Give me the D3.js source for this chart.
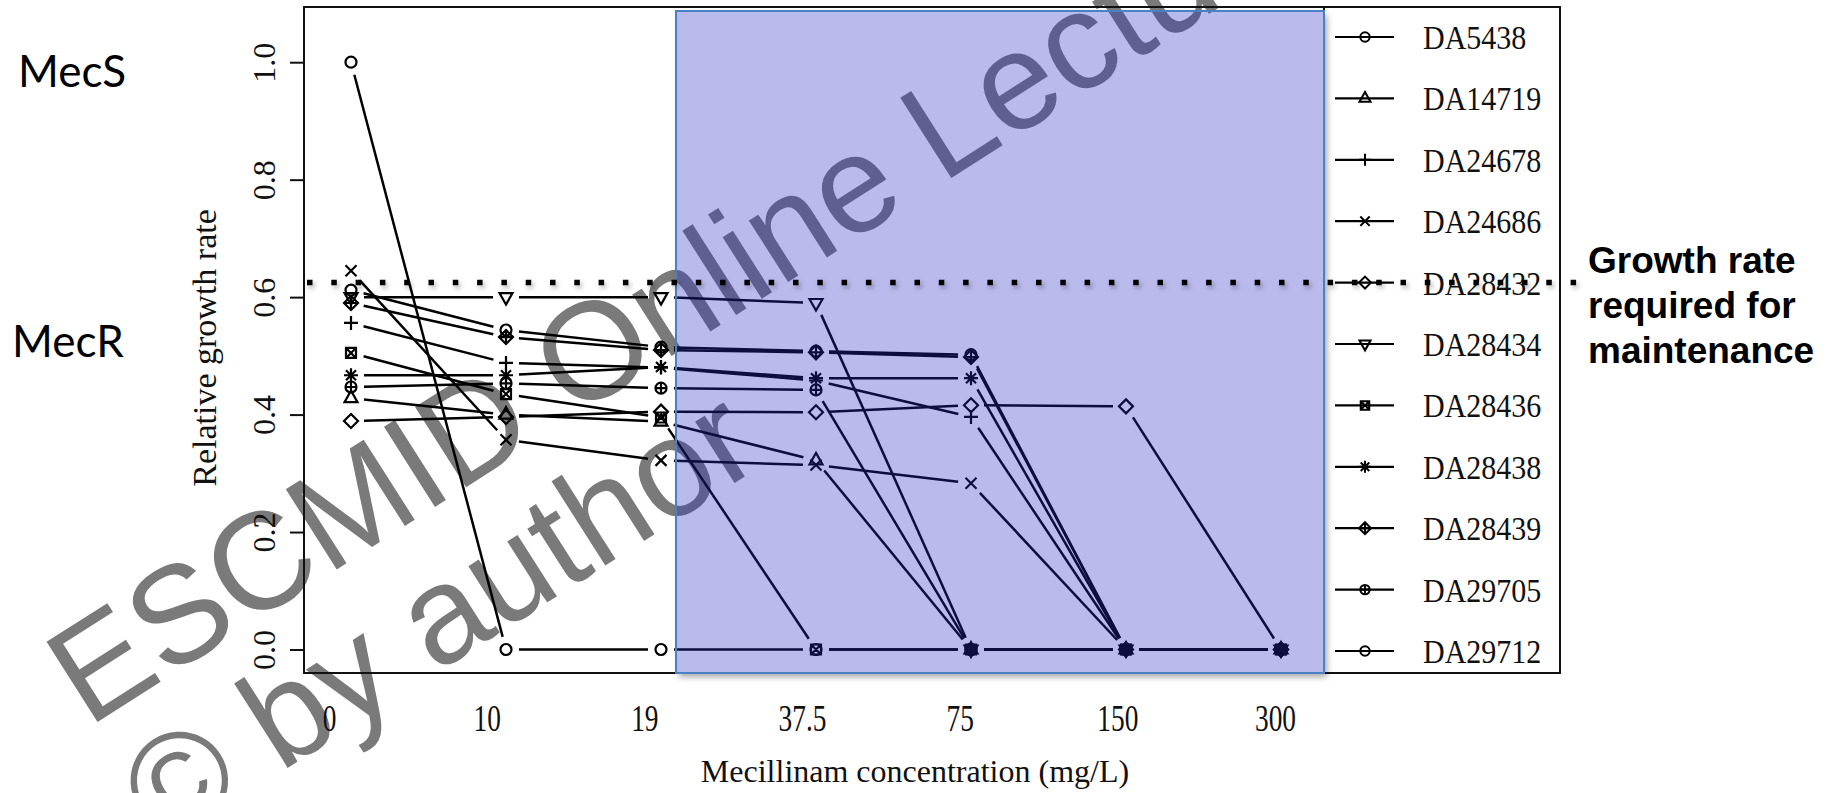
<!DOCTYPE html>
<html>
<head>
<meta charset="utf-8">
<script src="https://cdn.jsdelivr.net/npm/d3@7"></script>
<style>
  body { margin: 0; background: #fff; }
  text { font-family: 'Liberation Serif', 'Times New Roman', serif; }
</style>
</head>
<body>
<svg width="1828" height="793"></svg>
<script>
// data
const concentrations = ['0', '10', '19', '37.5', '75', '150', '300'];
const strains = ['DA5438', 'DA14719', 'DA24678', 'DA24686', 'DA28432', 'DA28434',
  'DA28436', 'DA28438', 'DA28439', 'DA29705', 'DA29712'];

const da5438  = [1.00, 0, 0, 0, 0, 0, 0];
const da14719 = [0.428, 0.400, 0.388, 0.322, 0, 0, 0];
const da24678 = [0.556, 0.488, 0.480, 0.458, 0.396, 0, 0];
const da24686 = [0.645, 0.357, 0.322, 0.314, 0.283, 0, 0];
const da28432 = [0.389, 0.396, 0.405, 0.404, 0.416, 0.414, 0];
const da28434 = [0.600, 0.600, 0.600, 0.590, 0, 0, 0];
const da28436 = [0.505, 0.435, 0.395, 0, 0, 0, 0];
const da28438 = [0.467, 0.467, 0.481, 0.462, 0.462, 0, 0];
const da28439 = [0.590, 0.532, 0.510, 0.506, 0.498, 0, 0];
const da29705 = [0.447, 0.453, 0.445, 0.442, 0, 0, 0];
const da29712 = [0.612, 0.544, 0.515, 0.508, 0.502, 0, 0];

const yTicks = [0, 0.2, 0.4, 0.6, 0.8, 1.0];
const maintenanceRate = 0.625;

// R pch style symbols, one per strain
const shapes = ['circle', 'triUp', 'plus', 'cross', 'diamond', 'triDown',
  'squareX', 'asterisk', 'diamondPlus', 'circlePlus', 'circle'];

(function (d3) {
  'use strict';

  const svg = d3.select('svg');
  const width = +svg.attr('width');
  const height = +svg.attr('height');

  const allValues = [da5438, da14719, da24678, da24686, da28432, da28434,
    da28436, da28438, da28439, da29705, da29712];
  const series = strains.map((name, i) => ({ name, values: allValues[i], shape: shapes[i] }));

  const frame = { left: 304, right: 1324, legendRight: 1560, top: 7, bottom: 673 };

  const xScale = d3.scalePoint().domain(concentrations).range([351, 1281]);
  // typed tick labels sit a bit off the points in the original
  const xLabelScale = d3.scalePoint().domain(concentrations).range([329, 1275]);
  const yScale = d3.scaleLinear().domain([-0.04, 1.094]).range([frame.bottom, frame.top]);
  const legendScale = d3.scalePoint().domain(strains).range([37, 651]);

  const symbolPath = type => {
    const circ = r => `M${r},0A${r},${r} 0 1,1 ${-r},0A${r},${r} 0 1,1 ${r},0`;
    switch (type) {
      case 'circle': return circ(5.5);
      case 'triUp': return 'M0,-7.5L6.5,4L-6.5,4Z';
      case 'triDown': return 'M0,7.5L6.5,-4L-6.5,-4Z';
      case 'plus': return 'M-7,0H7M0,-7V7';
      case 'cross': return 'M-5.5,-5.5L5.5,5.5M-5.5,5.5L5.5,-5.5';
      case 'diamond': return 'M0,-7L7,0L0,7L-7,0Z';
      case 'squareX': return 'M-5,-5H5V5H-5ZM-5,-5L5,5M-5,5L5,-5';
      case 'asterisk': return 'M-7,0H7M0,-7V7M-5,-5L5,5M-5,5L5,-5';
      case 'diamondPlus': return 'M0,-7L7,0L0,7L-7,0ZM-7,0H7M0,-7V7';
      case 'circlePlus': return circ(5.5) + 'M-5.5,0H5.5M0,-5.5V5.5';
    }
  };

  const bandLeft = xScale('19') + 15;
  const bandTop = 11;

  const defs = svg.append('defs');
  defs.append('filter')
      .attr('id', 'shadow')
      .attr('filterUnits', 'userSpaceOnUse')
      .attr('x', 0).attr('y', 0).attr('width', width).attr('height', height)
    .append('feDropShadow')
      .attr('dx', 2).attr('dy', 3)
      .attr('stdDeviation', 2.5)
      .attr('flood-color', '#000')
      .attr('flood-opacity', 0.3);
  defs.append('filter')
      .attr('id', 'blur')
      .attr('filterUnits', 'userSpaceOnUse')
      .attr('x', 0).attr('y', 0).attr('width', width).attr('height', height)
    .append('feGaussianBlur')
      .attr('stdDeviation', 3);
  // shadow only outside the band
  const mask = defs.append('mask').attr('id', 'outsideBand')
      .attr('maskUnits', 'userSpaceOnUse')
      .attr('x', 0).attr('y', 0).attr('width', width).attr('height', height);
  mask.append('rect').attr('width', width).attr('height', height).attr('fill', '#fff');
  mask.append('rect')
      .attr('x', bandLeft).attr('y', bandTop)
      .attr('width', frame.right - bandLeft).attr('height', frame.bottom - bandTop)
      .attr('fill', '#000');

  // watermark
  const wm = svg.append('g').attr('fill', '#7a7a7a');
  wm.append('text')
      .attr('transform', 'translate(88,728) rotate(-32.5)')
      .style('font-family', "'Liberation Sans', Arial, sans-serif")
      .style('font-size', '138px')
      .text('ESCMID Online Lecture Library');
  wm.append('text')
      .attr('transform', 'translate(162,848) rotate(-32.5)')
      .style('font-family', "'Liberation Sans', Arial, sans-serif")
      .style('font-size', '138px')
      .text('\u00A9 by author');

  const g = svg.append('g');

  // frame around plot + legend
  g.append('rect')
      .attr('x', frame.left).attr('y', frame.top)
      .attr('width', frame.legendRight - frame.left)
      .attr('height', frame.bottom - frame.top)
      .attr('fill', 'none').attr('stroke', '#111').attr('stroke-width', 2);
  g.append('line')
      .attr('x1', frame.right).attr('x2', frame.right)
      .attr('y1', frame.top).attr('y2', frame.bottom)
      .attr('stroke', '#111').attr('stroke-width', 2);

  // y axis
  const yAxis = d3.axisLeft(yScale)
      .tickValues(yTicks)
      .tickSize(14)
      .tickFormat(d3.format('.1f'));
  const yAxisG = g.append('g')
      .attr('transform', `translate(${frame.left},0)`)
      .call(yAxis);
  yAxisG.select('.domain').remove();
  yAxisG.selectAll('.tick line').attr('stroke', '#111').attr('stroke-width', 2);
  yAxisG.selectAll('.tick text')
      .attr('x', null).attr('dy', null)
      .attr('transform', 'translate(-29,0) rotate(-90)')
      .attr('text-anchor', 'middle')
      .attr('fill', '#111')
      .style('font-size', '32px')
      .style('font-family', "'Liberation Serif', serif");

  g.append('text')
      .attr('transform', 'translate(216,348) rotate(-90)')
      .attr('text-anchor', 'middle')
      .attr('fill', '#111')
      .style('font-size', '34px')
      .text('Relative growth rate');

  // x axis labels (no ticks in the original)
  const xAxis = d3.axisBottom(xLabelScale).tickSize(0).tickPadding(0);
  const xAxisG = g.append('g')
      .attr('transform', 'translate(0,731)')
      .call(xAxis);
  xAxisG.select('.domain').remove();
  xAxisG.selectAll('.tick text')
      .attr('x', 0).attr('y', 0).attr('dy', null)
      .attr('transform', 'scale(0.72,1)')
      .attr('fill', '#111')
      .style('font-size', '38px')
      .style('font-family', "'Liberation Serif', serif");

  g.append('text')
      .attr('x', 915).attr('y', 782)
      .attr('text-anchor', 'middle')
      .attr('fill', '#111')
      .style('font-size', '32px')
      .text('Mecillinam concentration (mg/L)');

  // lines with gaps round the points (R type = "b")
  const gap = 13;
  const segments = [];
  series.forEach(s => {
    for (let i = 0; i < s.values.length - 1; i++) {
      const x0 = xScale(concentrations[i]), y0 = yScale(s.values[i]);
      const x1 = xScale(concentrations[i + 1]), y1 = yScale(s.values[i + 1]);
      const len = Math.hypot(x1 - x0, y1 - y0);
      if (len <= 2 * gap) continue;
      const ux = (x1 - x0) / len, uy = (y1 - y0) / len;
      segments.push({ x1: x0 + ux * gap, y1: y0 + uy * gap, x2: x1 - ux * gap, y2: y1 - uy * gap });
    }
  });
  g.append('g').selectAll('line').data(segments)
    .enter().append('line')
      .attr('x1', d => d.x1).attr('y1', d => d.y1)
      .attr('x2', d => d.x2).attr('y2', d => d.y2)
      .attr('stroke', '#000')
      .attr('stroke-width', 2.5);

  // markers
  const points = series.flatMap(s => s.values.map((v, i) => ({ shape: s.shape, c: concentrations[i], v })));
  g.append('g').selectAll('path').data(points)
    .enter().append('path')
      .attr('transform', d => `translate(${xScale(d.c)},${yScale(d.v)})`)
      .attr('d', d => symbolPath(d.shape))
      .attr('fill', 'none')
      .attr('stroke', '#000')
      .attr('stroke-width', 2.2);

  // legend
  const legendG = g.append('g');
  const entry = legendG.selectAll('g').data(series)
    .enter().append('g')
      .attr('transform', d => `translate(0,${legendScale(d.name)})`);
  entry.append('line')
      .attr('x1', 1335).attr('x2', 1394)
      .attr('stroke', '#000').attr('stroke-width', 2.2);
  entry.append('path')
      .attr('transform', 'translate(1365,0) scale(0.85)')
      .attr('d', d => symbolPath(d.shape))
      .attr('fill', 'none').attr('stroke', '#000').attr('stroke-width', 2.4);
  entry.append('text')
      .attr('transform', 'translate(1423,12) scale(0.91,1)')
      .attr('fill', '#111')
      .style('font-size', '33px')
      .text(d => d.name);

  // highlighted concentration range
  svg.append('rect')
      .attr('x', bandLeft + 3).attr('y', bandTop + 4)
      .attr('width', frame.right - bandLeft).attr('height', frame.bottom - bandTop)
      .attr('fill', '#000').attr('fill-opacity', 0.35)
      .attr('filter', 'url(#blur)')
      .attr('mask', 'url(#outsideBand)');
  svg.append('rect')
      .attr('x', bandLeft).attr('y', bandTop)
      .attr('width', frame.right - bandLeft)
      .attr('height', frame.bottom - bandTop)
      .attr('fill', 'rgb(40,40,200)')
      .attr('fill-opacity', 0.32)
      .attr('stroke', '#4a80c4')
      .attr('stroke-width', 2);

  // required growth rate
  svg.append('line')
      .attr('x1', 307).attr('x2', 1582)
      .attr('y1', yScale(maintenanceRate)).attr('y2', yScale(maintenanceRate))
      .attr('stroke', '#000')
      .attr('stroke-width', 5.5)
      .attr('stroke-dasharray', '5.5 18.8')
      .attr('filter', 'url(#shadow)');

  const note = svg.append('text')
      .attr('x', 1588)
      .attr('fill', '#000')
      .style('font-family', "'Liberation Sans', Arial, sans-serif")
      .style('font-weight', 'bold')
      .style('font-size', '37px');
  ['Growth rate', 'required for', 'maintenance'].forEach((t, i) => {
    note.append('tspan').attr('x', 1588).attr('y', 273 + i * 45).text(t);
  });

  svg.append('text')
      .attr('x', 18).attr('y', 87)
      .style('font-family', "Lato, 'Open Sans', sans-serif")
      .style('font-size', '44px')
      .text('MecS');
  svg.append('text')
      .attr('x', 12).attr('y', 357)
      .style('font-family', "Lato, 'Open Sans', sans-serif")
      .style('font-size', '44px')
      .text('MecR');

}(d3));
</script>
</body>
</html>
